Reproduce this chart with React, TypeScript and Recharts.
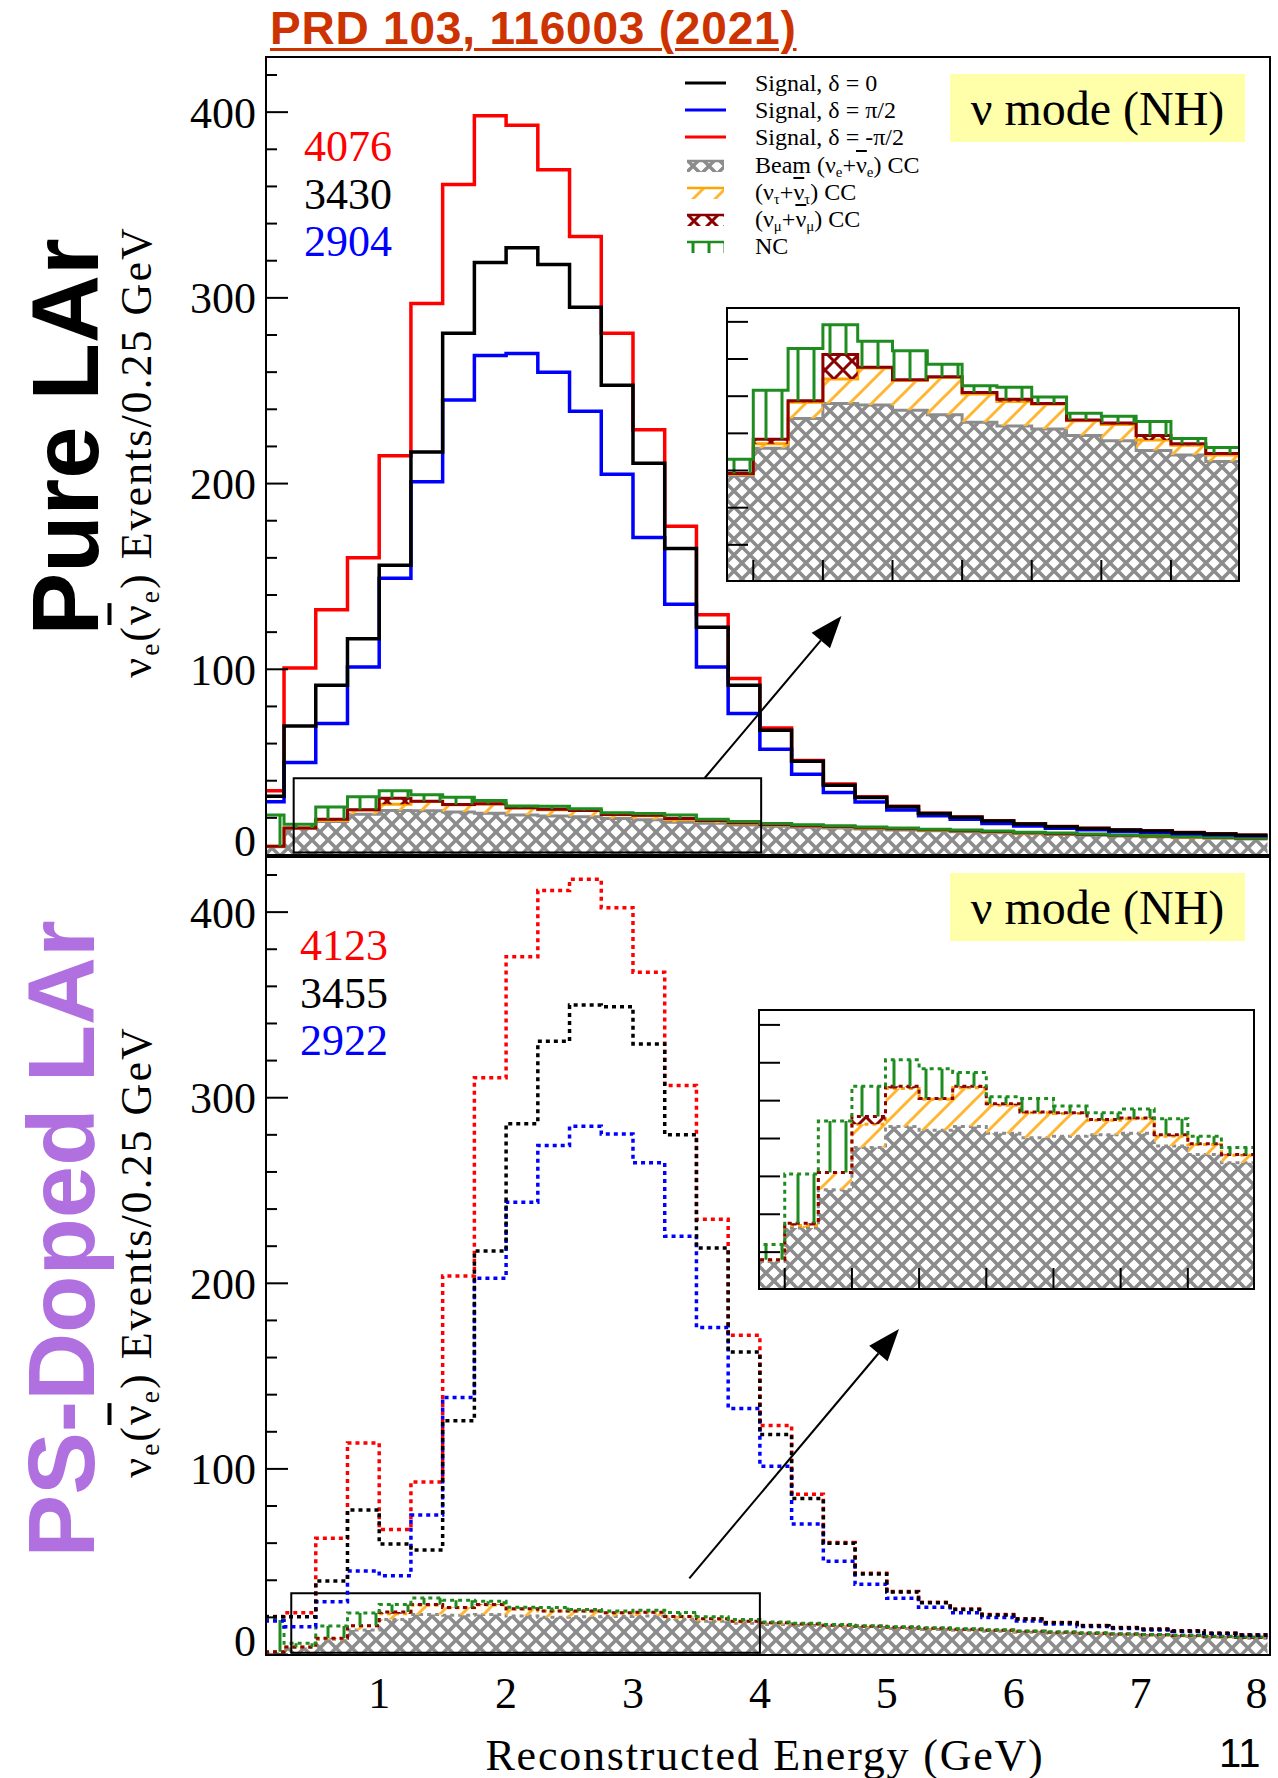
import React from "react";
import { ComposedChart, Line, Area, XAxis, YAxis, ReferenceArea } from "recharts";

const SERIF = "'Liberation Serif', 'Times New Roman', serif";
const SANS = "'Liberation Sans', Arial, sans-serif";

// bin edges (GeV); the first bin is cut by the frame at 0.1
const edges = [0.1, 0.25, 0.5, 0.75, 1.0, 1.25, 1.5, 1.75, 2.0, 2.25, 2.5, 2.75, 3.0, 3.25, 3.5, 3.75, 4.0, 4.25, 4.5, 4.75, 5.0, 5.25, 5.5, 5.75, 6.0, 6.25, 6.5, 6.75, 7.0, 7.25, 7.5, 7.75, 8.0];

// Pure LAr, events per bin
const pureRed = [34.6, 100.7, 132, 160, 215, 297, 361, 398, 393, 369, 333, 281, 229, 177, 129.4, 95, 68.4, 50.9, 38.2, 31.3, 26.2, 22.5, 20.4, 18.4, 16.8, 15.3, 14.4, 13.5, 13.0, 12.1, 11.4, 10.7];
const pureBlack = [31.7, 69.5, 91.4, 116.5, 156, 217, 281, 319, 327, 318, 295, 253, 211, 165, 122.7, 91.4, 67.2, 50.5, 37.6, 31.0, 26.0, 22.4, 20.3, 18.3, 16.7, 15.2, 14.3, 13.4, 12.9, 12.0, 11.3, 10.6];
const pureBlue = [28.7, 49.8, 70.8, 101.2, 149, 201, 245, 269, 270, 260, 239, 205, 171, 135, 101.2, 76.2, 57, 43.5, 33.7, 28.5, 24.2, 21.1, 19.2, 17.0, 15.6, 14.4, 13.6, 12.8, 12.3, 11.5, 10.9, 10.3];
const pureBeam = [4.5, 14.3, 18.0, 22.0, 24.0, 23.8, 23.1, 22.5, 21.5, 21.0, 20.6, 19.7, 19.0, 17.7, 17.1, 16.2, 15.5, 15.0, 14.5, 14.0, 13.5, 13.0, 12.5, 12.0, 11.5, 11.0, 10.6, 10.2, 9.8, 9.4, 9.0, 8.6];
const pureTau = [0.2, 0.2, 0.6, 2.2, 3.3, 5.0, 4.0, 5.0, 3.8, 3.3, 3.3, 2.0, 2.2, 1.4, 1.3, 0.9, 0.8, 0.7, 0.7, 0.6, 0.6, 0.5, 0.5, 0.5, 0.4, 0.4, 0.4, 0.3, 0.3, 0.3, 0.3, 0.3];
const pureNumu = [0.0, 0.1, 0.6, 0.2, 3.3, 0.1, 0.1, 0.1, 0.2, 0.3, 0.1, 0.1, 0.2, 0.6, 0.2, 0.2, 0.1, 0.1, 0.1, 0.1, 0.1, 0.1, 0.1, 0.1, 0.1, 0.1, 0.1, 0.1, 0.1, 0.1, 0.1, 0.1];
const pureNc = [16.8, 1.9, 6.6, 7.0, 4.0, 3.5, 3.9, 1.7, 0.9, 1.6, 0.9, 0.9, 0.9, 1.9, 0.7, 0.8, 0.5, 0.5, 0.4, 0.4, 0.4, 0.3, 0.3, 0.3, 0.3, 0.3, 0.2, 0.2, 0.2, 0.2, 0.2, 0.2];

// PS-doped LAr, events per bin
const psRed = [20.5, 22.5, 62.6, 114, 67.4, 93, 204, 310.8, 376, 411.6, 417.7, 402.4, 367.6, 306.6, 234.5, 172, 123.4, 86.4, 60.3, 43.8, 34.0, 28.1, 24.5, 21.5, 19.2, 17.2, 15.6, 14.5, 13.7, 12.8, 11.5, 10.6];
const psBlack = [20.4, 20.4, 39.6, 77.8, 59.5, 56.3, 125.9, 217.4, 286, 330.4, 349.9, 349, 329, 280, 219, 163, 118.5, 84.1, 59.9, 43.4, 33.7, 27.9, 24.3, 21.3, 19.1, 17.1, 15.5, 14.4, 13.6, 12.7, 11.4, 10.5];
const psBlue = [18, 15.0, 28.4, 45, 42.4, 75.1, 138.5, 202.7, 243.7, 274.2, 284.6, 280.5, 265, 225.4, 176.2, 132.6, 101.4, 70.3, 50.3, 37.8, 30.3, 25.4, 22.5, 20.0, 18.0, 16.4, 15.1, 14.0, 13.2, 12.4, 11.2, 10.4];
const psBeam = [1.2, 3.75, 8.2, 13.25, 18.8, 21.6, 21.1, 21.6, 20.7, 20.1, 20.3, 20.5, 20.7, 19.0, 17.9, 16.8, 16.2, 15.6, 15.0, 14.5, 14.0, 13.5, 13.0, 12.5, 12.0, 11.5, 11.0, 10.6, 10.2, 9.8, 9.3, 8.8];
const psTau = [0.3, 0.25, 0.3, 2.25, 3.1, 5.0, 4.1, 5.1, 3.7, 3.3, 3.0, 1.9, 1.9, 1.3, 1.3, 1.0, 0.8, 0.7, 0.7, 0.6, 0.6, 0.5, 0.5, 0.5, 0.4, 0.4, 0.4, 0.3, 0.3, 0.3, 0.3, 0.3];
const psNumu = [0, 0, 0.3, 0, 1.0, 0.3, 0.1, 0.2, 0.2, 0.1, 0.1, 0.1, 0.1, 0.2, 0.1, 0.1, 0.1, 0.1, 0.1, 0.1, 0.1, 0.1, 0.1, 0.1, 0.1, 0.1, 0.1, 0.1, 0.1, 0.1, 0.1, 0.1];
const psNc = [17.1, 2.0, 6.5, 6.8, 4.0, 3.5, 3.9, 1.8, 0.9, 1.8, 0.9, 0.9, 1.2, 2.1, 1.0, 0.9, 0.4, 0.4, 0.4, 0.3, 0.3, 0.3, 0.3, 0.3, 0.2, 0.2, 0.2, 0.2, 0.2, 0.2, 0.2, 0.2];

const pureTotals = ["4076", "3430", "2904"];
const psTotals = ["4123", "3455", "2922"];

// y ticks every 20, labelled every 100
const yTicks = [0, 20, 40, 60, 80, 100, 120, 140, 160, 180, 200, 220, 240, 260, 280, 300, 320, 340, 360, 380, 400, 420];
const energyTicks = [1, 2, 3, 4, 5, 6, 7, 8];
const insetXTicks = [0.5, 1, 1.5, 2, 2.5, 3, 3.5];
const insetYTicks = [5, 10, 15, 20, 25, 30, 35];

const X_MIN = 0.1;
const X_MAX = 8.02;
const Y_MAX = 429.7;

type Hist = { red: number[]; black: number[]; blue: number[]; beam: number[]; tau: number[]; numu: number[]; nc: number[] };

function toRows(h: Hist) {
  const last = edges.length - 2;
  return edges.map((x, i) => {
    const j = Math.min(i, last);
    return { x, red: h.red[j], black: h.black[j], blue: h.blue[j], beam: h.beam[j], tau: h.tau[j], numu: h.numu[j], nc: h.nc[j] };
  });
}

const pureRows = toRows({ red: pureRed, black: pureBlack, blue: pureBlue, beam: pureBeam, tau: pureTau, numu: pureNumu, nc: pureNc });
const psRows = toRows({ red: psRed, black: psBlack, blue: psBlue, beam: psBeam, tau: psTau, numu: psNumu, nc: psNc });

const COL = { red: "#ff0000", black: "#000000", blue: "#0000ff", beam: "#8c8c8c", tau: "#ffa500", numu: "#8b0000", nc: "#1e8c1e" };

function Patterns() {
  return (
    <svg width={0} height={0} style={{ position: "absolute" }}>
      <defs>
        <pattern id="hBeam" patternUnits="userSpaceOnUse" width={16} height={16}>
          <path d="M0,0L16,16M16,0L0,16M-2,14L2,18M14,-2L18,2M14,18L18,14M-2,2L2,-2" stroke="#8c8c8c" strokeWidth={3.5} />
        </pattern>
        <pattern id="hTau" patternUnits="userSpaceOnUse" width={22} height={22}>
          <path d="M0,22L22,0M-3,3L3,-3M19,25L25,19" stroke="#ffb733" strokeWidth={3} />
        </pattern>
        <pattern id="hNumu" patternUnits="userSpaceOnUse" width={18} height={18}>
          <path d="M0,0L18,18M18,0L0,18" stroke="#8b0000" strokeWidth={3} />
        </pattern>
        <pattern id="hNc" patternUnits="userSpaceOnUse" width={16} height={8}>
          <path d="M8,0L8,8" stroke="#1e8c1e" strokeWidth={3} />
        </pattern>
      </defs>
    </svg>
  );
}

function bgAreas(dashed: boolean) {
  const dash = dashed ? "4 4" : undefined;
  const list = [
    { k: "beam", fill: "url(#hBeam)" },
    { k: "tau", fill: "url(#hTau)" },
    { k: "numu", fill: "url(#hNumu)" },
    { k: "nc", fill: "url(#hNc)" },
  ];
  return list.map((a) => (
    <Area
      key={a.k}
      type="stepAfter"
      dataKey={a.k}
      stackId="bg"
      stroke={(COL as any)[a.k]}
      strokeWidth={3}
      strokeDasharray={dash}
      fill={a.fill}
      fillOpacity={1}
      dot={false}
      activeDot={false}
      isAnimationActive={false}
    />
  ));
}

function signalLines(dashed: boolean) {
  return ["red", "blue", "black"].map((k) => (
    <Line
      key={k}
      type="stepAfter"
      dataKey={k}
      stroke={(COL as any)[k]}
      strokeWidth={3.5}
      strokeDasharray={dashed ? "4 4" : undefined}
      dot={false}
      activeDot={false}
      isAnimationActive={false}
    />
  ));
}

// tick lines only, no text
const NoText = () => <g />;

// inward tick (long every 100, short every 20) plus the label outside the frame
const MainYTick = (props: any) => {
  const { x, y, payload } = props;
  const v = payload.value;
  const major = v % 100 === 0;
  return (
    <g>
      <line x1={x} x2={x + (major ? 23 : 12)} y1={y} y2={y} stroke="#000" strokeWidth={2} />
      {major && (
        <text x={x - 9} y={v === 0 ? y - 14 : y} dy="0.35em" textAnchor="end" fontFamily={SERIF} fontSize={44} fill="#000">
          {v}
        </text>
      )}
    </g>
  );
};

const XTick = (props: any) => {
  const { x, y, payload } = props;
  const last = payload.value === 8;
  return (
    <text x={x} y={y} dy="0.72em" textAnchor={last ? "end" : "middle"} fontFamily={SERIF} fontSize={44} fill="#000">
      {payload.value}
    </text>
  );
};

const tickStroke = { stroke: "#000", strokeWidth: 2 };

type PanelProps = {
  rows: any[];
  top: number;
  height: number;
  bottomSpace: number;
  dashed: boolean;
  labels: boolean;
  box: { x1: number; x2: number; y1: number; y2: number };
};

function Panel({ rows, top, height, bottomSpace, dashed, labels, box }: PanelProps) {
  return (
    <div style={{ position: "absolute", left: 0, top, width: 1278, height }}>
      <ComposedChart width={1278} height={height} data={rows} margin={{ top: 57, right: 8, left: 265, bottom: labels ? bottomSpace - 60 : bottomSpace }}>
        {bgAreas(dashed)}
        <ReferenceArea x1={box.x1} x2={box.x2} y1={box.y1} y2={box.y2} fill="none" fillOpacity={0} stroke="#000" strokeWidth={2} ifOverflow="visible" />
        {signalLines(dashed)}
        {labels ? (
          <XAxis dataKey="x" type="number" domain={[X_MIN, X_MAX]} allowDataOverflow ticks={energyTicks} interval={0} tick={XTick} tickLine={false} axisLine={false} tickSize={0} tickMargin={22} height={60} />
        ) : (
          <XAxis dataKey="x" type="number" domain={[X_MIN, X_MAX]} allowDataOverflow hide />
        )}
        <YAxis type="number" domain={[0, Y_MAX]} ticks={yTicks} interval={0} mirror tick={MainYTick} tickLine={false} axisLine={false} tickSize={0} tickMargin={0} />
      </ComposedChart>
    </div>
  );
}

type InsetProps = { rows: any[]; left: number; top: number; width: number; height: number; xDomain: number[]; yMax: number; dashed: boolean };

function Inset({ rows, left, top, width, height, xDomain, yMax, dashed }: InsetProps) {
  return (
    <div style={{ position: "absolute", left, top, width, height, background: "#fff" }}>
      <ComposedChart width={width} height={height} data={rows} margin={{ top: 0, right: 0, bottom: 0, left: 0 }}>
        {bgAreas(dashed)}
        <XAxis dataKey="x" type="number" domain={xDomain} allowDataOverflow mirror ticks={insetXTicks} interval={0} tick={NoText} axisLine={false} tickSize={22} tickLine={tickStroke} />
        <YAxis type="number" domain={[0, yMax]} allowDataOverflow mirror ticks={insetYTicks} interval={0} tick={NoText} axisLine={false} tickSize={22} tickLine={tickStroke} />
      </ComposedChart>
      <div style={{ position: "absolute", left: 0, top: 0, width, height, boxSizing: "border-box", border: "2px solid #000", pointerEvents: "none" }} />
    </div>
  );
}

const sub = (t: string) => <sub style={{ fontSize: "0.62em", verticalAlign: "-0.3em", lineHeight: 0 }}>{t}</sub>;
const nubar = <span style={{ textDecoration: "overline" }}>ν</span>;

function Swatch({ kind }: { kind: string }) {
  if (kind === "red" || kind === "blue" || kind === "black") {
    return (
      <svg width={41} height={14}>
        <line x1={0} x2={41} y1={7} y2={7} stroke={(COL as any)[kind]} strokeWidth={3} />
      </svg>
    );
  }
  const fills: any = { beam: "url(#hBeam)", tau: "url(#hTau)", numu: "url(#hNumu)", nc: "url(#hNc)" };
  return (
    <svg width={41} height={14}>
      <rect x={2} y={3} width={37} height={11} fill={fills[kind]} />
      <line x1={2} x2={39} y1={3} y2={3} stroke={(COL as any)[kind]} strokeWidth={2.5} />
    </svg>
  );
}

const legendItems: { kind: string; label: React.ReactNode }[] = [
  { kind: "black", label: <>Signal, δ = 0</> },
  { kind: "blue", label: <>Signal, δ = π/2</> },
  { kind: "red", label: <>Signal, δ = -π/2</> },
  { kind: "beam", label: <>Beam (ν{sub("e")}+{nubar}{sub("e")}) CC</> },
  { kind: "tau", label: <>(ν{sub("τ")}+{nubar}{sub("τ")}) CC</> },
  { kind: "numu", label: <>(ν{sub("μ")}+{nubar}{sub("μ")}) CC</> },
  { kind: "nc", label: <>NC</> },
];

function Legend() {
  return (
    <div style={{ position: "absolute", left: 685, top: 69, fontFamily: SERIF, fontSize: 24, color: "#000" }}>
      {legendItems.map((it, i) => (
        <div key={i} style={{ display: "flex", alignItems: "center", height: 27.3 }}>
          <Swatch kind={it.kind} />
          <span style={{ marginLeft: 29, whiteSpace: "nowrap", lineHeight: 1 }}>{it.label}</span>
        </div>
      ))}
    </div>
  );
}

function ModeBox({ top }: { top: number }) {
  return (
    <div style={{ position: "absolute", left: 950, top, width: 295, height: 68, background: "#ffffaa", display: "flex", alignItems: "center", justifyContent: "center", fontFamily: SERIF, fontSize: 48, color: "#000", whiteSpace: "nowrap" }}>
      ν mode (NH)
    </div>
  );
}

function Totals({ values, left, top }: { values: string[]; left: number; top: number }) {
  const colors = [COL.red, COL.black, COL.blue];
  return (
    <>
      {values.map((v, i) => (
        <div key={v} style={{ position: "absolute", left, top: top + i * 47.5 - 22, fontFamily: SERIF, fontSize: 44, lineHeight: 1, color: colors[i] }}>
          {v}
        </div>
      ))}
    </>
  );
}

function Rotated({ cx, cy, style, children }: { cx: number; cy: number; style: React.CSSProperties; children: React.ReactNode }) {
  return (
    <div style={{ position: "absolute", left: cx, top: cy, transform: "translate(-50%, -50%) rotate(-90deg)", whiteSpace: "nowrap", ...style }}>
      {children}
    </div>
  );
}

const yTitle = (
  <>
    ν{sub("e")}({nubar}{sub("e")}) Events/0.25 GeV
  </>
);

const arrows = [
  { x1: 704.7, y1: 778, x2: 841.5, y2: 616 },
  { x1: 689.3, y1: 1578.3, x2: 899, y2: 1329 },
];

function Arrows() {
  return (
    <svg width={1278} height={1778} style={{ position: "absolute", left: 0, top: 0, pointerEvents: "none" }}>
      {arrows.map((a, i) => {
        const dx = a.x2 - a.x1;
        const dy = a.y2 - a.y1;
        const len = Math.hypot(dx, dy);
        const ux = dx / len;
        const uy = dy / len;
        const bx = a.x2 - 32 * ux;
        const by = a.y2 - 32 * uy;
        const nx = -uy;
        const ny = ux;
        return (
          <g key={i}>
            <line x1={a.x1} y1={a.y1} x2={bx} y2={by} stroke="#000" strokeWidth={2} />
            <polygon points={`${a.x2},${a.y2} ${bx + 12 * nx},${by + 12 * ny} ${bx - 12 * nx},${by - 12 * ny}`} fill="#000" />
          </g>
        );
      })}
    </svg>
  );
}

export default function App() {
  return (
    <div style={{ position: "absolute", left: 0, top: 0, width: 1278, height: 1778, background: "#fff", overflow: "hidden" }}>
      <Patterns />
      <div style={{ position: "absolute", left: 270, top: 5, fontFamily: SANS, fontWeight: 700, fontSize: 46, lineHeight: 1, color: "#cc3300", textDecoration: "underline", textDecorationThickness: 3, textUnderlineOffset: 4, letterSpacing: 0.8, whiteSpace: "nowrap" }}>
        PRD 103, 116003 (2021)
      </div>

      <Panel rows={pureRows} top={0} height={900} bottomSpace={45} dashed={false} labels={false} box={{ x1: 0.326, x2: 4.01, y1: 1.3, y2: 41.3 }} />
      <Panel rows={psRows} top={800} height={978} bottomSpace={123.5} dashed={true} labels={true} box={{ x1: 0.307, x2: 4.0, y1: 1.0, y2: 33.0 }} />

      <div style={{ position: "absolute", left: 265, top: 56, width: 1006, height: 800, boxSizing: "border-box", border: "2px solid #000", pointerEvents: "none" }} />
      <div style={{ position: "absolute", left: 265, top: 856, width: 1006, height: 800, boxSizing: "border-box", border: "2px solid #000", pointerEvents: "none" }} />

      <Inset rows={pureRows} left={726} top={307} width={514} height={275} xDomain={[0.304, 3.996]} yMax={37} dashed={false} />
      <Inset rows={psRows} left={758} top={1009} width={497} height={281} xDomain={[0.301, 4.0]} yMax={37.1} dashed={true} />

      <Legend />
      <ModeBox top={74} />
      <ModeBox top={873} />
      <Totals values={pureTotals} left={304} top={147} />
      <Totals values={psTotals} left={300} top={946} />

      <Rotated cx={66} cy={437} style={{ fontFamily: SANS, fontWeight: 700, fontSize: 94, color: "#000" }}>Pure LAr</Rotated>
      <Rotated cx={62} cy={1239} style={{ fontFamily: SANS, fontWeight: 700, fontSize: 94, color: "#b070e0" }}>PS-Doped LAr</Rotated>
      <Rotated cx={136} cy={452} style={{ fontFamily: SERIF, fontSize: 44, letterSpacing: 2, color: "#000" }}>{yTitle}</Rotated>
      <Rotated cx={136} cy={1252} style={{ fontFamily: SERIF, fontSize: 44, letterSpacing: 2, color: "#000" }}>{yTitle}</Rotated>

      <div style={{ position: "absolute", left: 765, top: 1755, transform: "translate(-50%, -50%)", fontFamily: SERIF, fontSize: 44, letterSpacing: 1.8, whiteSpace: "nowrap", color: "#000" }}>
        Reconstructed Energy (GeV)
      </div>
      <div style={{ position: "absolute", left: 1219, top: 1733, fontFamily: SANS, fontSize: 40, lineHeight: 1, color: "#000" }}>11</div>

      <Arrows />
    </div>
  );
}
